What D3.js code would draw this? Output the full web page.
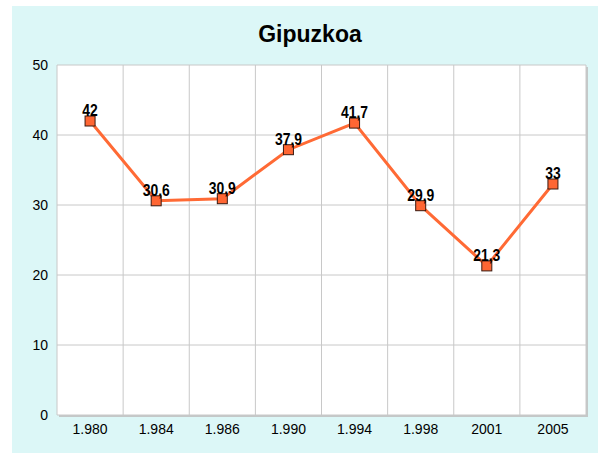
<!DOCTYPE html>
<head>
  <meta charset="utf-8">
  <script src="https://cdn.jsdelivr.net/npm/d3@7"></script>
  <style>
    body { margin:0; background:#fff; }
    text { font-family: "Liberation Sans Narrow", "Arial Narrow", "Liberation Sans", sans-serif; }
  </style>
</head>
<body>
  <script>
    var years = ["1.980", "1.984", "1.986", "1.990", "1.994", "1.998", "2001", "2005"];
    var values = [42, 30.6, 30.9, 37.9, 41.7, 29.9, 21.3, 33];
    var yTicks = [0, 10, 20, 30, 40, 50];

    var width = 605, height = 467;
    var margin = {top: 65, right: 19, bottom: 52, left: 57};

    var svg = d3.select("body").append("svg")
      .attr("width", width)
      .attr("height", height);

    // fond du panneau
    svg.append("rect")
      .attr("x", 12).attr("y", 6)
      .attr("width", 586).attr("height", 447)
      .attr("fill", "#dcf7f7");

    svg.append("text")
      .attr("x", 310).attr("y", 42)
      .attr("text-anchor", "middle")
      .style("font-size", "23px")
      .style("font-weight", "bold")
      .text("Gipuzkoa");

    var x = d3.scaleBand().domain(years).range([margin.left, width - margin.right]);
    var y = d3.scaleLinear().domain([0, 50]).range([height - margin.bottom, margin.top]);

    // ombre
    svg.append("rect")
      .attr("x", margin.left + 2).attr("y", margin.top + 2)
      .attr("width", x.range()[1] - margin.left)
      .attr("height", y(0) - margin.top)
      .attr("fill", "#c4c8c8");
    svg.append("rect")
      .attr("x", margin.left).attr("y", margin.top)
      .attr("width", x.range()[1] - margin.left)
      .attr("height", y(0) - margin.top)
      .attr("fill", "#fff");

    // grille
    svg.selectAll(".hgrid").data(yTicks).enter().append("line")
      .attr("x1", margin.left).attr("x2", x.range()[1])
      .attr("y1", function(d){ return y(d); }).attr("y2", function(d){ return y(d); })
      .attr("stroke", "#c8c8c8").attr("stroke-width", 1);
    svg.selectAll(".vgrid").data(years).enter().append("line")
      .attr("x1", function(d){ return x(d); }).attr("x2", function(d){ return x(d); })
      .attr("y1", margin.top).attr("y2", y(0))
      .attr("stroke", "#c8c8c8").attr("stroke-width", 1);
    svg.append("line")
      .attr("x1", x.range()[1]).attr("x2", x.range()[1])
      .attr("y1", margin.top).attr("y2", y(0))
      .attr("stroke", "#c8c8c8");

    var yAxis = svg.append("g")
      .attr("transform", "translate(" + margin.left + ",0)")
      .call(d3.axisLeft(y).tickValues(yTicks).tickSize(0).tickPadding(9));
    yAxis.select(".domain").remove();
    yAxis.selectAll("text").style("font-size", "14px").attr("fill", "#000");

    var xAxis = svg.append("g")
      .attr("transform", "translate(0," + y(0) + ")")
      .call(d3.axisBottom(x).tickSize(0).tickPadding(9));
    xAxis.select(".domain").remove();
    xAxis.selectAll("text").style("font-size", "14px").attr("fill", "#000");

    var pts = years.map(function(d, i){ return [x(d) + x.bandwidth() / 2, y(values[i])]; });

    svg.append("path")
      .attr("d", d3.line()(pts))
      .attr("fill", "none")
      .attr("stroke", "#ff6a35")
      .attr("stroke-width", 3);

    svg.selectAll(".pt").data(pts).enter().append("rect")
      .attr("x", function(d){ return d[0] - 5; })
      .attr("y", function(d){ return d[1] - 5; })
      .attr("width", 10).attr("height", 10)
      .attr("fill", "#ff6633")
      .attr("stroke", "#3a1a10").attr("stroke-width", 1);

    // etiquettes, un peu condensees
    svg.selectAll(".lbl").data(pts).enter().append("text")
      .attr("transform", function(d){ return "translate(" + d[0] + "," + (d[1] - 5) + ") scale(0.82,1)"; })
      .attr("text-anchor", "middle")
      .style("font-size", "17px")
      .style("font-weight", "bold")
      .text(function(d, i){ return String(values[i]).replace(".", ","); });
  </script>
</body>
